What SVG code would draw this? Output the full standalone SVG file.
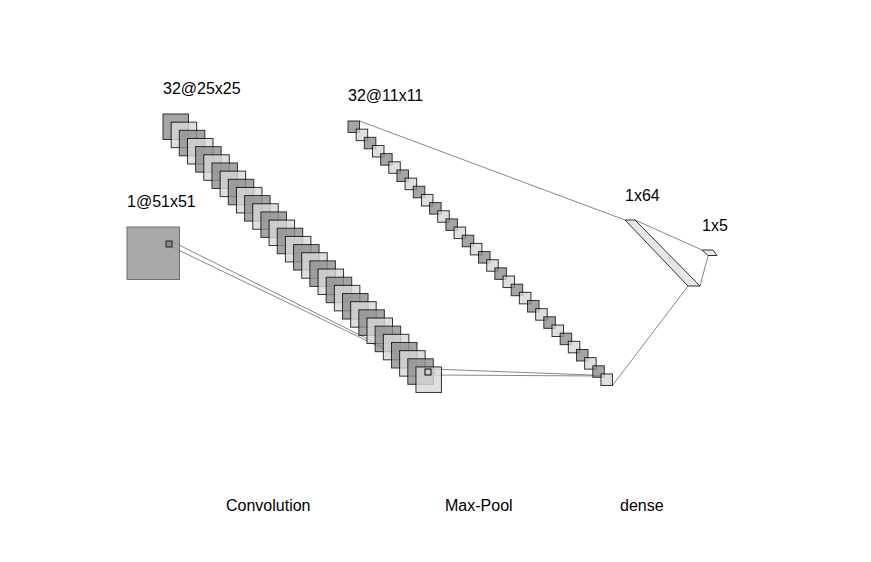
<svg xmlns="http://www.w3.org/2000/svg" xmlns:xlink="http://www.w3.org/1999/xlink" width="871" height="562" viewBox="0 0 871 562">
<style>
.bg{fill:#ffffff}
.d{fill:#8f8f8f;stroke:#000;stroke-width:1;opacity:0.8}
.l{fill:#d8d8d8;stroke:#000;stroke-width:1;opacity:0.8}
.in{fill:#9a9a9a;stroke:#555;stroke-width:1;opacity:0.85}
.pt{fill:#8a8a8a;stroke:#222;stroke-width:1}
.pt2{fill:none;stroke:#000;stroke-width:1}
.fc{fill:#e0e0e0;stroke:#000;stroke-width:1;opacity:0.8}
.cn{stroke:#555;stroke-width:0.7;fill:none}
.t{font-family:"Liberation Sans",Arial,Helvetica,sans-serif;font-size:16px;fill:#000}
</style>
<defs>
<rect id="cs" width="25.5" height="25.5"/>
<rect id="ps" width="11.5" height="11.5"/>
</defs>
<rect class="bg" x="0" y="0" width="871" height="562"/>
<g id="connectors">
<line class="cn" x1="172" y1="241.5" x2="436" y2="373"/>
<line class="cn" x1="172" y1="247" x2="436" y2="374"/>
<line class="cn" x1="431" y1="369" x2="604" y2="375.5"/>
<line class="cn" x1="431" y1="375" x2="604" y2="376"/>
<line class="cn" x1="359.5" y1="121" x2="625" y2="220"/>
<line class="cn" x1="612.5" y1="385.5" x2="688" y2="286"/>
<line class="cn" x1="635" y1="220" x2="702" y2="250"/>
<line class="cn" x1="700" y1="286" x2="708" y2="256"/>
</g>
<g id="input">
<rect class="in" x="127" y="227" width="52.5" height="52.5"/>
<rect class="pt" x="166" y="241" width="6" height="6"/>
</g>
<g id="conv">
<use href="#cs" class="d" x="163" y="114"/>
<use href="#cs" class="l" x="171.16" y="122.16"/>
<use href="#cs" class="d" x="179.32" y="130.32"/>
<use href="#cs" class="l" x="187.48" y="138.48"/>
<use href="#cs" class="d" x="195.64" y="146.64"/>
<use href="#cs" class="l" x="203.8" y="154.8"/>
<use href="#cs" class="d" x="211.96" y="162.96"/>
<use href="#cs" class="l" x="220.12" y="171.12"/>
<use href="#cs" class="d" x="228.28" y="179.28"/>
<use href="#cs" class="l" x="236.44" y="187.44"/>
<use href="#cs" class="d" x="244.6" y="195.6"/>
<use href="#cs" class="l" x="252.76" y="203.76"/>
<use href="#cs" class="d" x="260.92" y="211.92"/>
<use href="#cs" class="l" x="269.08" y="220.08"/>
<use href="#cs" class="d" x="277.24" y="228.24"/>
<use href="#cs" class="l" x="285.4" y="236.4"/>
<use href="#cs" class="d" x="293.56" y="244.56"/>
<use href="#cs" class="l" x="301.72" y="252.72"/>
<use href="#cs" class="d" x="309.88" y="260.88"/>
<use href="#cs" class="l" x="318.04" y="269.04"/>
<use href="#cs" class="d" x="326.2" y="277.2"/>
<use href="#cs" class="l" x="334.36" y="285.36"/>
<use href="#cs" class="d" x="342.52" y="293.52"/>
<use href="#cs" class="l" x="350.68" y="301.68"/>
<use href="#cs" class="d" x="358.84" y="309.84"/>
<use href="#cs" class="l" x="367" y="318"/>
<use href="#cs" class="d" x="375.16" y="326.16"/>
<use href="#cs" class="l" x="383.32" y="334.32"/>
<use href="#cs" class="d" x="391.48" y="342.48"/>
<use href="#cs" class="l" x="399.64" y="350.64"/>
<use href="#cs" class="d" x="407.8" y="358.8"/>
<use href="#cs" class="l" x="415.96" y="366.96"/>
<rect class="pt2" x="425" y="369" width="6" height="6"/>
</g>
<g id="maxpool">
<use href="#ps" class="d" x="348" y="121"/>
<use href="#ps" class="l" x="356.16" y="129.16"/>
<use href="#ps" class="d" x="364.32" y="137.32"/>
<use href="#ps" class="l" x="372.48" y="145.48"/>
<use href="#ps" class="d" x="380.64" y="153.64"/>
<use href="#ps" class="l" x="388.8" y="161.8"/>
<use href="#ps" class="d" x="396.96" y="169.96"/>
<use href="#ps" class="l" x="405.12" y="178.12"/>
<use href="#ps" class="d" x="413.28" y="186.28"/>
<use href="#ps" class="l" x="421.44" y="194.44"/>
<use href="#ps" class="d" x="429.6" y="202.6"/>
<use href="#ps" class="l" x="437.76" y="210.76"/>
<use href="#ps" class="d" x="445.92" y="218.92"/>
<use href="#ps" class="l" x="454.08" y="227.08"/>
<use href="#ps" class="d" x="462.24" y="235.24"/>
<use href="#ps" class="l" x="470.4" y="243.4"/>
<use href="#ps" class="d" x="478.56" y="251.56"/>
<use href="#ps" class="l" x="486.72" y="259.72"/>
<use href="#ps" class="d" x="494.88" y="267.88"/>
<use href="#ps" class="l" x="503.04" y="276.04"/>
<use href="#ps" class="d" x="511.2" y="284.2"/>
<use href="#ps" class="l" x="519.36" y="292.36"/>
<use href="#ps" class="d" x="527.52" y="300.52"/>
<use href="#ps" class="l" x="535.68" y="308.68"/>
<use href="#ps" class="d" x="543.84" y="316.84"/>
<use href="#ps" class="l" x="552" y="325"/>
<use href="#ps" class="d" x="560.16" y="333.16"/>
<use href="#ps" class="l" x="568.32" y="341.32"/>
<use href="#ps" class="d" x="576.48" y="349.48"/>
<use href="#ps" class="l" x="584.64" y="357.64"/>
<use href="#ps" class="d" x="592.8" y="365.8"/>
<use href="#ps" class="l" x="600.96" y="373.96"/>
</g>
<g id="dense">
<polygon class="fc" points="625,220 635,220 700,286 688,286"/>
</g>
<g id="output">
<polygon class="fc" points="702,250 713,250 717,255.5 708,255.5"/>
</g>
<g id="labels">
<text class="t" x="163" y="94">32@25x25</text>
<text class="t" x="127" y="207">1@51x51</text>
<text class="t" x="348" y="101">32@11x11</text>
<text class="t" x="625" y="201">1x64</text>
<text class="t" x="702" y="231">1x5</text>
<text class="t" x="226" y="511">Convolution</text>
<text class="t" x="445" y="511">Max-Pool</text>
<text class="t" x="620" y="511">dense</text>
</g>
</svg>
